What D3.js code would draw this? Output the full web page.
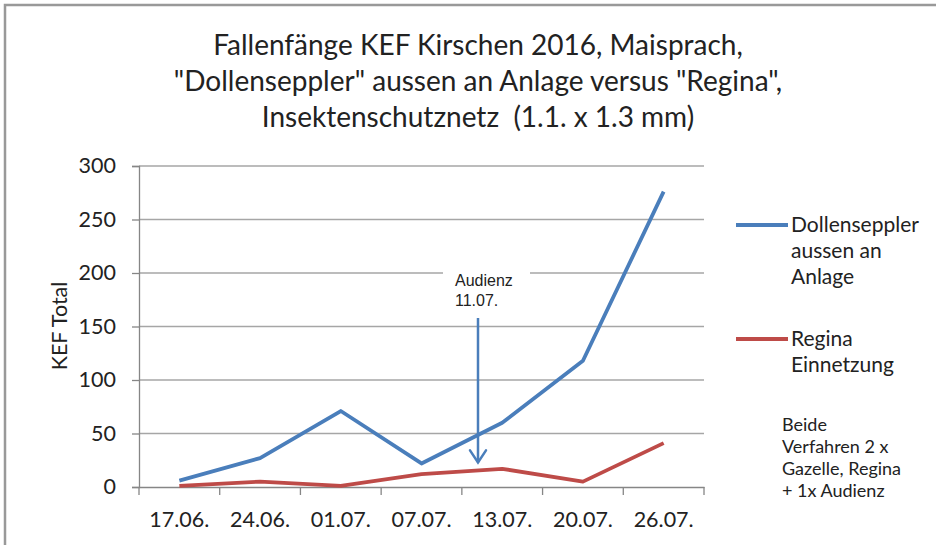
<!DOCTYPE html>
<html>
<head>
<meta charset="utf-8">
<script src="https://cdn.jsdelivr.net/npm/d3@7"></script>
<style>
  body { margin: 0; background: #fff; }
  svg { display: block; }
  text { font-family: Lato, "Open Sans", sans-serif; fill: #222; }
</style>
</head>
<body>
<figure id="chart" style="margin:0"></figure>
<script>
// data
const dates = ["17.06.", "24.06.", "01.07.", "07.07.", "13.07.", "20.07.", "26.07."];
const dollenseppler = [6, 27, 71, 22, 60, 118, 276];
const regina = [1, 5, 1, 12, 17, 5, 41];
const yTicks = [0, 50, 100, 150, 200, 250, 300];
const titleLines = [
  "Fallenfänge KEF Kirschen 2016, Maisprach,",
  "\"Dollenseppler\" aussen an Anlage versus \"Regina\",",
  "Insektenschutznetz  (1.1. x 1.3 mm)"
];
const legendItems = [
  { lines: ["Dollenseppler", "aussen an", "Anlage"], color: "#4a7ebb" },
  { lines: ["Regina", "Einnetzung"], color: "#be4b48" }
];
const noteLines = ["Beide", "Verfahren 2 x", "Gazelle, Regina", "+ 1x Audienz"];
const audienz = { lines: ["Audienz", "11.07."], pos: 3.7 };

const width = 936, height = 545;
const plot = { left: 139, right: 704, top: 166, bottom: 487 };

const svg = d3.select("figure#chart")
  .append("svg")
  .attr("width", width)
  .attr("height", height);

// outer frame (top and left only visible)
svg.append("path")
  .attr("d", `M5,${height} L5,5 L${width},5`)
  .attr("fill", "none")
  .attr("stroke", "#999")
  .attr("stroke-width", 2.5);

// title
svg.append("g").selectAll("text")
  .data(titleLines)
  .enter()
  .append("text")
  .attr("x", 478)
  .attr("y", (d, i) => 55 + i * 36)
  .attr("text-anchor", "middle")
  .style("font-size", "28px")
  .style("white-space", "pre")
  .text(d => d);

const x = d3.scaleBand()
  .domain(dates)
  .range([plot.left, plot.right]);

const y = d3.scaleLinear()
  .domain([0, 300])
  .range([plot.bottom, plot.top]);

const xc = d => x(d) + x.bandwidth() / 2;

// gridlines
svg.append("g").selectAll("line")
  .data(yTicks.filter(t => t > 0))
  .enter()
  .append("line")
  .attr("x1", plot.left)
  .attr("x2", plot.right)
  .attr("y1", d => y(d))
  .attr("y2", d => y(d))
  .attr("stroke", "#a6a6a6")
  .attr("stroke-width", 1.3);

// y axis
const yAxis = svg.append("g")
  .attr("transform", `translate(${plot.left},0)`)
  .call(d3.axisLeft(y).tickValues(yTicks).tickSize(7).tickPadding(16));
yAxis.select(".domain").attr("stroke", "#868686").attr("stroke-width", 1.3);
yAxis.selectAll(".tick line").attr("stroke", "#868686").attr("stroke-width", 1.3);
yAxis.selectAll("text")
  .style("font-family", "Lato, sans-serif")
  .style("font-size", "21.5px")
  .attr("fill", "#333");

// x axis
const xAxis = svg.append("g")
  .attr("transform", `translate(0,${plot.bottom})`)
  .call(d3.axisBottom(x).tickSize(0).tickPadding(25));
xAxis.select(".domain").attr("stroke", "#868686").attr("stroke-width", 1.3);
xAxis.selectAll("text")
  .style("font-family", "Lato, sans-serif")
  .style("font-size", "21.5px")
  .attr("fill", "#333");

// x ticks between categories
const bounds = dates.map(d => x(d)).concat([x(dates[dates.length - 1]) + x.bandwidth()]);
svg.append("g").selectAll("line")
  .data(bounds)
  .enter()
  .append("line")
  .attr("x1", d => d)
  .attr("x2", d => d)
  .attr("y1", plot.bottom)
  .attr("y2", plot.bottom + 8)
  .attr("stroke", "#868686")
  .attr("stroke-width", 1.3);

// y axis title
svg.append("text")
  .attr("transform", "translate(67,326) rotate(-90)")
  .attr("text-anchor", "middle")
  .style("font-size", "21.5px")
  .text("KEF Total");

// series lines
const line = d3.line()
  .x((d, i) => xc(dates[i]))
  .y(d => y(d));

svg.append("path")
  .datum(regina)
  .attr("d", line)
  .attr("fill", "none")
  .attr("stroke", "#be4b48")
  .attr("stroke-width", 3.8)
  .attr("stroke-linejoin", "round");

svg.append("path")
  .datum(dollenseppler)
  .attr("d", line)
  .attr("fill", "none")
  .attr("stroke", "#4a7ebb")
  .attr("stroke-width", 3.8)
  .attr("stroke-linejoin", "round");

// annotation "Audienz 11.07."
const ax = xc(dates[0]) + audienz.pos * x.step();
svg.append("rect")
  .attr("x", ax - 35)
  .attr("y", y(200) - 5)
  .attr("width", 87)
  .attr("height", 40)
  .attr("fill", "#fff");
svg.append("g").selectAll("text")
  .data(audienz.lines)
  .enter()
  .append("text")
  .attr("x", ax - 23)
  .attr("y", (d, i) => y(200) + 13 + i * 20)
  .style("font-family", "'Liberation Sans', Arial, sans-serif")
  .style("font-size", "16px")
  .text(d => d);
const arrowTop = y(200) + 45, arrowTip = y(23);
svg.append("line")
  .attr("x1", ax).attr("x2", ax)
  .attr("y1", arrowTop).attr("y2", arrowTip)
  .attr("stroke", "#4a7ebb")
  .attr("stroke-width", 2.5);
svg.append("path")
  .attr("d", `M${ax - 8},${arrowTip - 12} L${ax},${arrowTip} L${ax + 8},${arrowTip - 12}`)
  .attr("fill", "none")
  .attr("stroke", "#4a7ebb")
  .attr("stroke-width", 2.5)
  .attr("stroke-linecap", "round");

// legend
const legendY = [225, 339];
legendItems.forEach((item, k) => {
  svg.append("line")
    .attr("x1", 736).attr("x2", 788)
    .attr("y1", legendY[k]).attr("y2", legendY[k])
    .attr("stroke", item.color)
    .attr("stroke-width", 3.8);
  svg.append("g").selectAll("text")
    .data(item.lines)
    .enter()
    .append("text")
    .attr("x", 791)
    .attr("y", (d, i) => legendY[k] + 7 + i * 26)
    .style("font-size", "21px")
    .text(d => d);
});

// note
svg.append("g").selectAll("text")
  .data(noteLines)
  .enter()
  .append("text")
  .attr("x", 782)
  .attr("y", (d, i) => 431 + i * 22)
  .style("font-size", "18px")
  .text(d => d);
</script>
</body>
</html>
